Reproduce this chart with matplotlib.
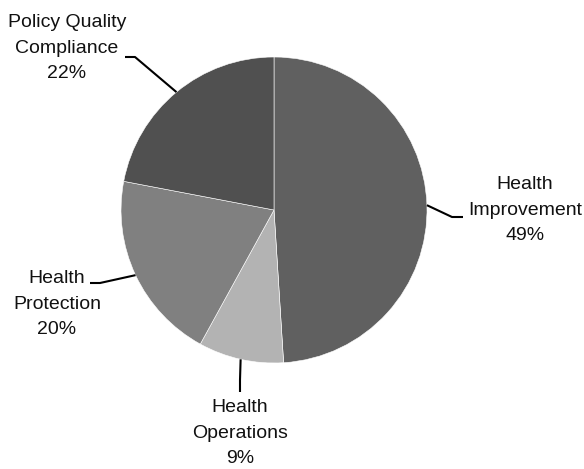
import numpy as np
import matplotlib
matplotlib.use("Agg")
import matplotlib.pyplot as plt

labels = ["Health\nImprovement", "Health\nOperations", "Health\nProtection", "Policy Quality\nCompliance"]
shares = [49, 9, 20, 22]
colors = ["#606060", "#b3b3b3", "#808080", "#505050"]

# label layout in pixel space (x, y from top): text centre, elbow, end of line
text_pos = [(525, 210), (240, 433), (57, 304), (67, 48)]
elbow = [(452, 217), (240, 380), (100, 283), (135, 57)]
line_end = [(463, 217), (240, 392), (90, 283), (125, 57)]

W, H = 584, 469
plt.rcParams['font.family'] = ['Liberation Sans', 'DejaVu Sans']

fig = plt.figure(figsize=(W / 100, H / 100), dpi=100)
ax = fig.add_axes([0, 0, 1, 1])

cx, cy, r = 274, H - 210, 153
wedges, _ = ax.pie(shares, colors=colors, startangle=90, counterclock=False,
                   center=(cx, cy), radius=r, frame=True,
                   wedgeprops=dict(edgecolor="white", linewidth=0.4))
ax.set_xlim(0, W)
ax.set_ylim(0, H)
ax.set_aspect("equal")
ax.axis("off")

for w, lab, s, tp, el, le in zip(wedges, labels, shares, text_pos, elbow, line_end):
    ang = np.deg2rad((w.theta1 + w.theta2) / 2)
    px, py = cx + r * np.cos(ang), cy + r * np.sin(ang)
    ax.plot([px, el[0], le[0]], [py, H - el[1], H - le[1]], color="black", lw=1.5,
            solid_capstyle="butt")
    ax.text(tp[0], H - tp[1], f"{lab}\n{s}%", ha="center", va="center",
            fontsize=14, linespacing=1.62, color="#111111")

fig.savefig("out.png", dpi=100)
